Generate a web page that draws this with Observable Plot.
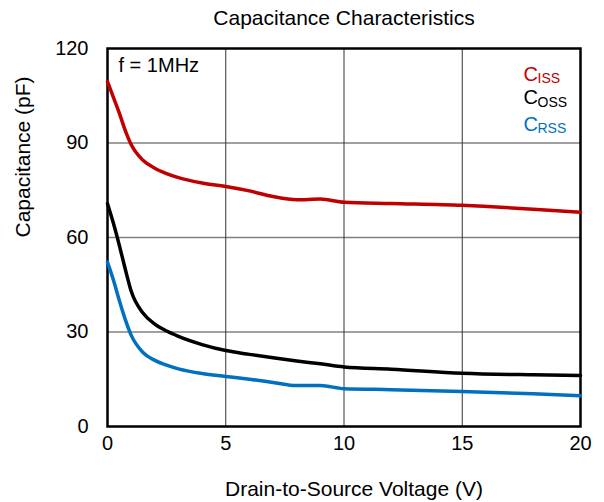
<!DOCTYPE html>
<html>
<head>
<meta charset="utf-8">
<script src="https://cdn.jsdelivr.net/npm/d3@7"></script>
<script src="https://cdn.jsdelivr.net/npm/@observablehq/plot@0.6"></script>
<style>
  html, body { margin: 0; padding: 0; background: #fff; }
</style>
</head>
<body>
<div id="chart"></div>
<script>
// Drain-to-source voltage (V)
const vds  = [0, 0.25, 0.5, 0.75, 1, 1.5, 2, 2.5, 3, 4, 5, 6, 7, 8, 9, 10, 12, 15, 18, 20];
// Capacitances (pF) at f = 1 MHz
const ciss = [109.5, 104.5, 99.5, 94, 89.5, 84.5, 82, 80.3, 79, 77.3, 76.2, 74.8, 73, 72, 72.2, 71.2, 70.8, 70.2, 69, 68];
const coss = [70.7, 64.5, 57.5, 50, 43, 36, 32.5, 30.3, 28.6, 26, 24.1, 22.9, 21.8, 20.8, 19.9, 18.9, 18.2, 16.9, 16.4, 16.2];
const crss = [52.2, 46.5, 40, 34, 29, 23.5, 21, 19.5, 18.3, 16.8, 15.9, 15, 14, 13, 13, 12, 11.7, 11.1, 10.4, 9.8];

const seriesNames  = ["ISS", "OSS", "RSS"];
const seriesColors = ["#c00000", "#000000", "#0070c0"];
const seriesValues = [ciss, coss, crss];

const xTicks = [0, 5, 10, 15, 20];
const yTicks = [0, 30, 60, 90, 120];

const rows = seriesNames.flatMap((name, i) =>
  vds.map((v, j) => ({ series: name, v, c: seriesValues[i][j] }))
);

const font = "'Liberation Sans', Arial, sans-serif";

// legend entries: capital C followed by a subscript
const legendMarks = seriesNames.flatMap((name, i) => [
  Plot.text(["C"], {
    frameAnchor: "top-right", textAnchor: "start", lineAnchor: "middle",
    dx: -57, dy: [26, 49.5, 76.5][i],
    fill: seriesColors[i], fontSize: 20
  }),
  Plot.text([name], {
    frameAnchor: "top-right", textAnchor: "start", lineAnchor: "middle",
    dx: -43, dy: [30, 54, 80][i],
    fill: seriesColors[i], fontSize: 14
  })
]);

const chart = Plot.plot({
  width: 604,
  height: 502,
  marginLeft: 107,
  marginRight: 24,
  marginTop: 48,
  marginBottom: 76,
  style: { fontFamily: font, fontSize: "20px", background: "#fff", color: "#000" },
  x: { domain: [0, 20] },
  y: { domain: [0, 120] },
  color: { domain: seriesNames, range: seriesColors },
  marks: [
    Plot.gridY([30, 60, 90], { stroke: "#808080", strokeOpacity: 1, strokeWidth: 1.5 }),
    Plot.gridX([5, 10, 15], { stroke: "#333", strokeOpacity: 1, strokeWidth: 1 }),
    Plot.axisX({ ticks: xTicks, tickSize: 0, tickPadding: 9, label: null, fontSize: 20 }),
    Plot.axisY({ ticks: yTicks, tickSize: 0, tickPadding: 19, label: null, fontSize: 20 }),
    Plot.frame({ stroke: "#000", strokeWidth: 2.5 }),
    Plot.line(rows, {
      x: "v", y: "c", z: "series", stroke: "series",
      strokeWidth: 3.5, curve: "monotone-x"
    }),
    // chart title
    Plot.text(["Capacitance Characteristics"], {
      frameAnchor: "top", lineAnchor: "middle", dy: -30, fontSize: 21, fill: "#000"
    }),
    // axis titles
    Plot.text(["Drain-to-Source Voltage (V)"], {
      frameAnchor: "bottom", lineAnchor: "middle", dy: 63, dx: 10, fontSize: 21, fill: "#000"
    }),
    Plot.text(["Capacitance (pF)"], {
      frameAnchor: "left", lineAnchor: "middle", dx: -84, rotate: -90, fontSize: 21, fill: "#000"
    }),
    // test condition
    Plot.text(["f = 1MHz"], {
      frameAnchor: "top-left", textAnchor: "start", lineAnchor: "middle",
      dx: 11, dy: 17, fontSize: 20, fill: "#000"
    }),
    ...legendMarks
  ]
});

document.getElementById("chart").appendChild(chart);
</script>
</body>
</html>
